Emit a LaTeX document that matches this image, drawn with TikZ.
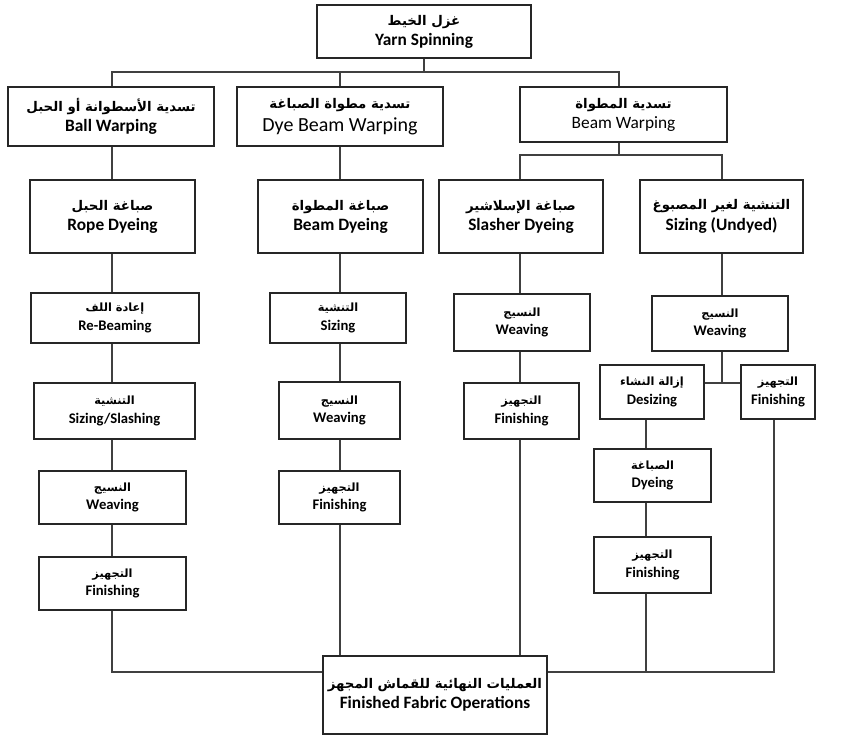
\documentclass[tikz,border=0pt]{standalone}
\usepackage{fontspec}
\setmainfont{Carlito}
\newfontfamily\arfont[Script=Arabic]{DejaVu Sans}
\TeXXeTstate=1
\newcommand\tb[2]{{\fontsize{10}{12}\selectfont\arfont\bfseries\beginR #1\endR}\\[3pt]{\fontsize{13}{15}\selectfont\bfseries #2}}
\newcommand\ts[2]{{\fontsize{8.5}{10}\selectfont\arfont\bfseries\beginR #1\endR}\\[2pt]{\fontsize{11}{13}\selectfont\bfseries #2}}
\begin{document}
\begin{tikzpicture}[x=0.75pt,y=-0.75pt,
  box/.style={draw=black!85,line width=1.1pt,fill=white,align=center,inner sep=0pt},
  wh/.style 2 args={minimum width=#1*0.75pt,minimum height=#2*0.75pt},
  conn/.style={draw=black!75,line width=1pt}]
\useasboundingbox (0,0) rectangle (841,737);
% row 0
\node[box,wh={214}{53}] (yarn) at (424,31.5) {\tb{غزل الخيط}{Yarn Spinning}};
% row 1
\node[box,wh={206}{59}] (ball) at (111,116.5) {\tb{تسدية الأسطوانة أو الحبل}{Ball Warping}};
\node[box,wh={206}{59}] (dyebw) at (340,116.5) {{\fontsize{10}{12}\selectfont\arfont\bfseries\beginR تسدية مطواة الصباغة\endR}\\[3pt]{\fontsize{15}{17}\selectfont Dye Beam Warping}};
\node[box,wh={207}{55}] (beamw) at (623.5,114.5) {{\fontsize{10}{12}\selectfont\arfont\bfseries\beginR تسدية المطواة\endR}\\[3pt]{\fontsize{13}{15}\selectfont Beam Warping}};
% row 2
\node[box,wh={165}{73}] (rope) at (112.5,216.5) {\tb{صباغة الحبل}{Rope Dyeing}};
\node[box,wh={165}{73}] (beamd) at (340.5,216.5) {\tb{صباغة المطواة}{Beam Dyeing}};
\node[box,wh={164}{73}] (slasher) at (521,216.5) {\tb{صباغة الإسلاشير}{Slasher Dyeing}};
\node[box,wh={163}{73}] (sizund) at (721.5,216.5) {\tb{التنشية لغير المصبوغ}{Sizing (Undyed)}};
% column A
\node[box,wh={168}{50}] (rebeam) at (115,318) {\ts{إعادة اللف}{Re-Beaming}};
\node[box,wh={161}{56}] (sizsl) at (114.5,411) {\ts{التنشية}{Sizing/Slashing}};
\node[box,wh={147}{53}] (weaveA) at (112.5,497.5) {\ts{النسيج}{Weaving}};
\node[box,wh={147}{53}] (finA) at (112.5,583.5) {\ts{التجهيز}{Finishing}};
% column B
\node[box,wh={136}{50}] (sizB) at (338,318) {\ts{التنشية}{Sizing}};
\node[box,wh={121}{57}] (weaveB) at (339.5,410.5) {\ts{النسيج}{Weaving}};
\node[box,wh={121}{53}] (finB) at (339.5,497.5) {\ts{التجهيز}{Finishing}};
% column C
\node[box,wh={136}{57}] (weaveC) at (522,322.5) {\ts{النسيج}{Weaving}};
\node[box,wh={115}{56}] (finC) at (521.5,411) {\ts{التجهيز}{Finishing}};
% column D/E/F
\node[box,wh={136}{55}] (weaveD) at (720,323.5) {\ts{النسيج}{Weaving}};
\node[box,wh={104}{54}] (desize) at (652,392) {\ts{إزالة النشاء}{Desizing}};
\node[box,wh={74}{54}] (finD) at (778,392) {\ts{التجهيز}{Finishing}};
\node[box,wh={117}{53}] (dye) at (652.5,475.5) {\ts{الصباغة}{Dyeing}};
\node[box,wh={117}{56}] (finE) at (652.5,565) {\ts{التجهيز}{Finishing}};
% final
\node[box,wh={224}{78}] (final) at (435,695) {\tb{العمليات النهائية للقماش المجهز}{Finished Fabric Operations}};
% coordinates
\coordinate (tL) at (112,72);
\coordinate (tR) at (619,72);
\coordinate (cB) at (340,72);
\coordinate (sL) at (520,155);
\coordinate (sR) at (722,155);
\coordinate (j) at (722,383);
\coordinate (cE) at (646,383);
\coordinate (bA) at (112,672);
\coordinate (bF) at (774,672);
% top connectors
\draw[conn] (yarn.south) -- (yarn.south |- tL);
\draw[conn] (ball.north -| tL) -- (tL) -- (tR) -- (beamw.north -| tR);
\draw[conn] (dyebw.north -| cB) -- (cB);
\draw[conn] (beamw.south -| tR) -- (tR |- sL);
\draw[conn] (slasher.north -| sL) -- (sL) -- (sR) -- (sizund.north -| sR);
% column A
\draw[conn] (ball.south -| tL) -- (rope.north -| tL);
\draw[conn] (rope.south -| tL) -- (rebeam.north -| tL);
\draw[conn] (rebeam.south -| tL) -- (sizsl.north -| tL);
\draw[conn] (sizsl.south -| tL) -- (weaveA.north -| tL);
\draw[conn] (weaveA.south -| tL) -- (finA.north -| tL);
\draw[conn] (finA.south -| tL) -- (bA) -- (final.west |- bA);
% column B
\draw[conn] (dyebw.south -| cB) -- (beamd.north -| cB);
\draw[conn] (beamd.south -| cB) -- (sizB.north -| cB);
\draw[conn] (sizB.south -| cB) -- (weaveB.north -| cB);
\draw[conn] (weaveB.south -| cB) -- (finB.north -| cB);
\draw[conn] (finB.south -| cB) -- (final.north -| cB);
% column C
\draw[conn] (slasher.south -| sL) -- (weaveC.north -| sL);
\draw[conn] (weaveC.south -| sL) -- (finC.north -| sL);
\draw[conn] (finC.south -| sL) -- (final.north -| sL);
% column D
\draw[conn] (sizund.south -| sR) -- (weaveD.north -| sR);
\draw[conn] (weaveD.south -| sR) -- (j);
\draw[conn] (desize.east |- j) -- (finD.west |- j);
% column E
\draw[conn] (desize.south -| cE) -- (dye.north -| cE);
\draw[conn] (dye.south -| cE) -- (finE.north -| cE);
\draw[conn] (finE.south -| cE) -- (cE |- bA);
% column F and bottom
\draw[conn] (final.east |- bA) -- (bF) -- (finD.south -| bF);
\end{tikzpicture}
\end{document}
